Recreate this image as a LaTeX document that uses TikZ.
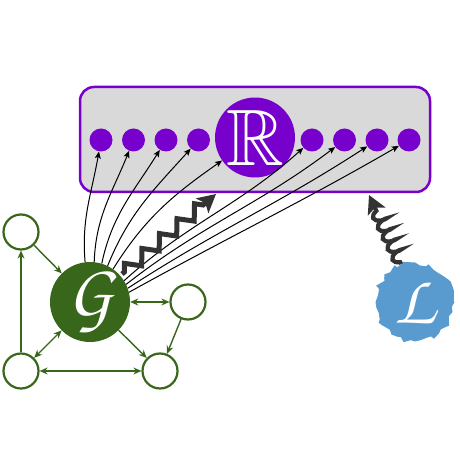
\documentclass[tikz,border=0pt]{standalone}
\usepackage{amssymb}
\usetikzlibrary{arrows.meta,decorations.pathmorphing,calc}
\definecolor{rpurple}{HTML}{7700CC}
\definecolor{boxgray}{HTML}{D9D9D9}
\definecolor{ggreen}{HTML}{38661A}
\definecolor{lblue}{HTML}{5A9BCF}
\definecolor{darkarr}{HTML}{333333}
\newcommand{\chanc}[1]{{\usefont{OT1}{pzc}{mb}{it}#1}}
\begin{document}
\begin{tikzpicture}[x=1pt,y=1pt,
  dotn/.style={circle,fill=rpurple,minimum size=23pt,inner sep=0pt},
  gsmall/.style={circle,draw=ggreen,line width=2.2pt,minimum size=35pt,inner sep=0pt,fill=white},
  garr/.style={draw=ggreen,line width=1.4pt,-{Stealth[length=8pt,width=7pt]}},
  gdarr/.style={draw=ggreen,line width=1.4pt,{Stealth[length=8pt,width=7pt]}-{Stealth[length=8pt,width=7pt]}},
  karr/.style={draw=black,line width=1pt,-{Stealth[length=7pt,width=6pt,inset=1.5pt]}},
  bigarr/.style={draw=darkarr,line width=5pt,-{Stealth[length=18pt,width=19pt,inset=4pt]}}
]
\useasboundingbox (0,0) rectangle (460,460);
% box
\node[draw=rpurple,line width=2.5pt,fill=boxgray,rounded corners=14pt,
      minimum width=350pt,minimum height=105pt,inner sep=0pt] (box) at (255,320.5) {};
% dots
\foreach \i/\x in {1/101,2/133.5,3/166,4/198.5,5/312,6/344.5,7/377,8/409}
  \node[dotn] (d\i) at (\x,320) {};
\node[circle,fill=rpurple,minimum size=78pt,inner sep=0pt] (R) at (255,322.5)
  {\color{white}\fontsize{80}{80}\selectfont$\mathbb{R}$};
% graph
\node[circle,fill=ggreen,minimum size=80pt,inner sep=0pt] (G) at (90,158)
  {\color{white}\fontsize{74}{74}\selectfont\chanc{G}};
\node[gsmall] (tl) at (21,228) {};
\node[gsmall] (rt) at (188,158) {};
\node[gsmall] (bl) at (21,89) {};
\node[gsmall] (br) at (160,89) {};
\draw[garr] (tl) -- (G);
\draw[garr] (bl) -- (tl);
\draw[gdarr] (G) -- (bl);
\draw[gdarr] (G) -- (rt);
\draw[garr] (rt) -- (br);
\draw[garr] (G) -- (br);
\draw[gdarr] (bl) -- (br);
% L blob
\pgfmathsetseed{11}
\node[circle,minimum size=78pt,inner sep=0pt] (L) at (415,158) {};
\fill[lblue,decorate,decoration={random steps,segment length=5pt,amplitude=3.2pt}]
  (L.center) circle (39pt);
\node at (L.center) {\color{white}\fontsize{70}{70}\selectfont\chanc{L}};
% curved arrows
\draw[karr] (G.97) to[out=95,in=260] (d1);
\draw[karr] (G.84) to[out=88,in=248] (d2);
\draw[karr] (G.73) to[out=78,in=238] (d3);
\draw[karr] (G.64) to[out=68,in=228] (d4);
\draw[karr] (G.55) to[out=58,in=215] (R);
\draw[karr] (G.32) to[out=42,in=222] (d5);
\draw[karr] (G.26) to[out=38,in=217] (d6);
\draw[karr] (G.20) to[out=33,in=213] (d7);
\draw[karr] (G.14) to[out=29,in=210] (d8);
% zigzag
\coordinate (zs) at (122,186);
\coordinate (ze) at (216,266);
\draw[bigarr,decorate,decoration={zigzag,amplitude=6.5pt,segment length=23pt,post length=14pt,pre length=3pt}] (zs) -- (ze);
% coil
\coordinate (cs) at (401,196);
\coordinate (ce) at (369,265);
\draw[bigarr,line width=4.2pt,decorate,decoration={coil,amplitude=6pt,segment length=11.5pt,aspect=0.4,post length=14pt,pre length=2pt}] (cs) -- (ce);
\end{tikzpicture}
\end{document}
